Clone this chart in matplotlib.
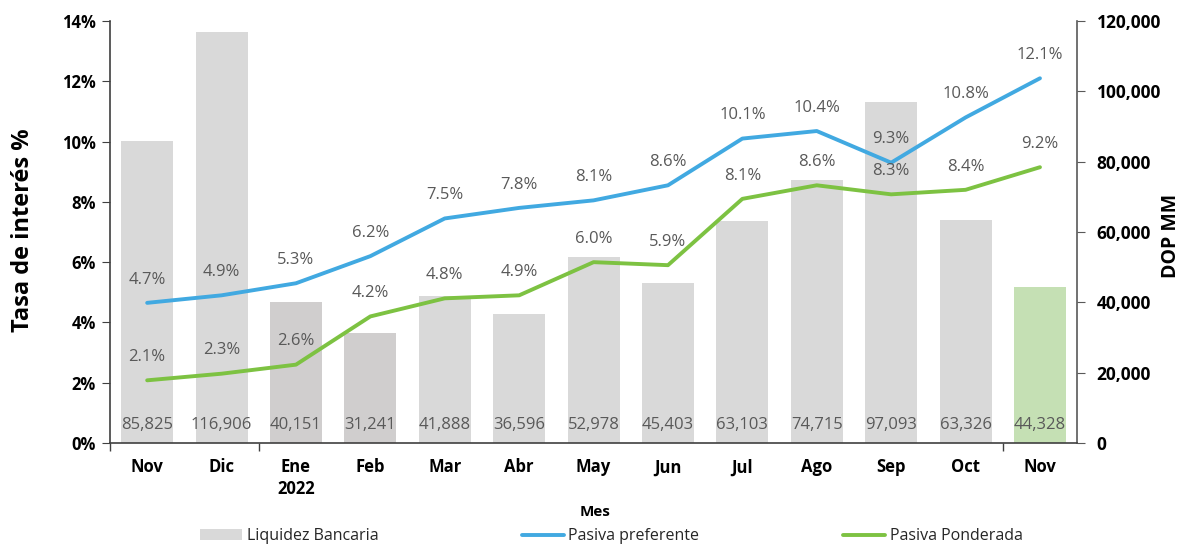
import matplotlib
matplotlib.use("Agg")
import matplotlib.pyplot as plt
import matplotlib.transforms as mtransforms
from matplotlib.ticker import FuncFormatter, FixedLocator
import numpy as np

months = ["Nov", "Dic", "Ene\n2022", "Feb", "Mar", "Abr", "May", "Jun", "Jul", "Ago", "Sep", "Oct", "Nov"]
liquidez = [85825, 116906, 40151, 31241, 41888, 36596, 52978, 45403, 63103, 74715, 97093, 63326, 44328]
preferente = [4.65, 4.9, 5.3, 6.2, 7.45, 7.8, 8.05, 8.55, 10.1, 10.35, 9.3, 10.8, 12.1]
ponderada = [2.08, 2.3, 2.6, 4.2, 4.8, 4.9, 6.0, 5.9, 8.1, 8.55, 8.25, 8.4, 9.15]
pref_labels = ["4.7%", "4.9%", "5.3%", "6.2%", "7.5%", "7.8%", "8.1%", "8.6%", "10.1%", "10.4%", "9.3%", "10.8%", "12.1%"]
pond_labels = ["2.1%", "2.3%", "2.6%", "4.2%", "4.8%", "4.9%", "6.0%", "5.9%", "8.1%", "8.6%", "8.3%", "8.4%", "9.2%"]
bar_colors = ["#d9d9d9", "#d9d9d9", "#d0cece", "#d0cece", "#d9d9d9", "#d9d9d9", "#d9d9d9",
              "#d9d9d9", "#d9d9d9", "#d9d9d9", "#d9d9d9", "#d9d9d9", "#c5e0b4"]

plt.rcParams['font.family'] = ['Open Sans', 'DejaVu Sans']

fig = plt.figure(figsize=(11.85, 5.5), dpi=100)
ax = fig.add_axes([0.0928, 0.1945, 0.8162, 0.7673])
ax2 = ax.twinx()

x = np.arange(len(months))

# bars on right axis
bars = ax2.bar(x, liquidez, width=0.7, color=bar_colors, zorder=1, label="Liquidez Bancaria")
ax2.set_ylim(0, 120000)
ax2.yaxis.set_major_locator(FixedLocator([0, 20000, 40000, 60000, 80000, 100000, 120000]))
ax2.yaxis.set_major_formatter(FuncFormatter(lambda v, p: f"{int(v):,}"))

# lines on left axis -> put left axis on top
ax.set_zorder(ax2.get_zorder() + 1)
ax.patch.set_visible(False)
blue = "#41a9e1"
green = "#7dc242"
lp, = ax.plot(x, preferente, color=blue, lw=2.8, label="Pasiva preferente", solid_capstyle='round')
lg, = ax.plot(x, ponderada, color=green, lw=2.8, label="Pasiva Ponderada", solid_capstyle='round')
ax.set_ylim(0, 14)
ax.set_xlim(-0.5, len(months) - 0.5)
ax.yaxis.set_major_locator(FixedLocator(np.arange(0, 15, 2)))
ax.yaxis.set_major_formatter(FuncFormatter(lambda v, p: f"{int(v)}%"))

lab_col = "#595959"
for i in range(len(months)):
    ax.annotate(pref_labels[i], (x[i], preferente[i]), xytext=(0, 11), textcoords="offset points",
                ha="center", va="bottom", fontsize=12, color=lab_col)
    ax.annotate(pond_labels[i], (x[i], ponderada[i]), xytext=(0, 11), textcoords="offset points",
                ha="center", va="bottom", fontsize=12, color=lab_col)
    trans = mtransforms.blended_transform_factory(ax.transData, ax.transAxes)
    ax.text(x[i], 0.042, f"{liquidez[i]:,}", transform=trans, ha="center", va="center",
            fontsize=12, color=lab_col)

# x axis
ax.set_xticks(x)
ax.set_xticklabels(months, fontsize=12, fontweight="bold", linespacing=1.25)
ax.tick_params(axis="x", length=0, pad=11)
ax.set_xticks([-0.5, 1.5, 11.5], minor=True)
ax.tick_params(axis="x", which="minor", length=6, width=1, color="#404040", direction="out")

for a in (ax, ax2):
    a.spines["top"].set_visible(False)
ax.spines["bottom"].set_color("#404040")
ax.spines["left"].set_color("#404040")
ax.spines["right"].set_visible(False)
ax2.spines["left"].set_visible(False)
ax2.spines["right"].set_color("#595959")
ax2.spines["bottom"].set_visible(False)
ax.spines["bottom"].set_linewidth(1.2)
ax.spines["left"].set_linewidth(1.2)
ax2.spines["right"].set_linewidth(1.2)

ax.tick_params(axis="y", labelsize=12, length=6, color="#404040", direction="out", pad=4)
ax2.tick_params(axis="y", labelsize=12.5, length=6, color="#595959", direction="out", pad=8)
for t in ax.get_yticklabels() + ax2.get_yticklabels():
    t.set_fontweight("bold")

fig.text(0.019, 0.582, "Tasa de interés %", rotation=90, ha="center", va="center",
         fontsize=17, fontweight="bold")
fig.text(0.988, 0.571, "DOP MM", rotation=90, ha="center", va="center",
         fontsize=14, fontweight="bold")
fig.text(0.5025, 0.069, "Mes", ha="center", va="center", fontsize=11, fontweight="bold")

fig.legend(handles=[bars, lp, lg], labels=["Liquidez Bancaria", "Pasiva preferente", "Pasiva Ponderada"],
           loc="lower center", bbox_to_anchor=(0.516, -0.016), ncol=3, frameon=False, fontsize=11.5,
           columnspacing=9, handlelength=2.6, handletextpad=0.3, labelcolor="#262626")

fig.savefig("out.png", dpi=100)
